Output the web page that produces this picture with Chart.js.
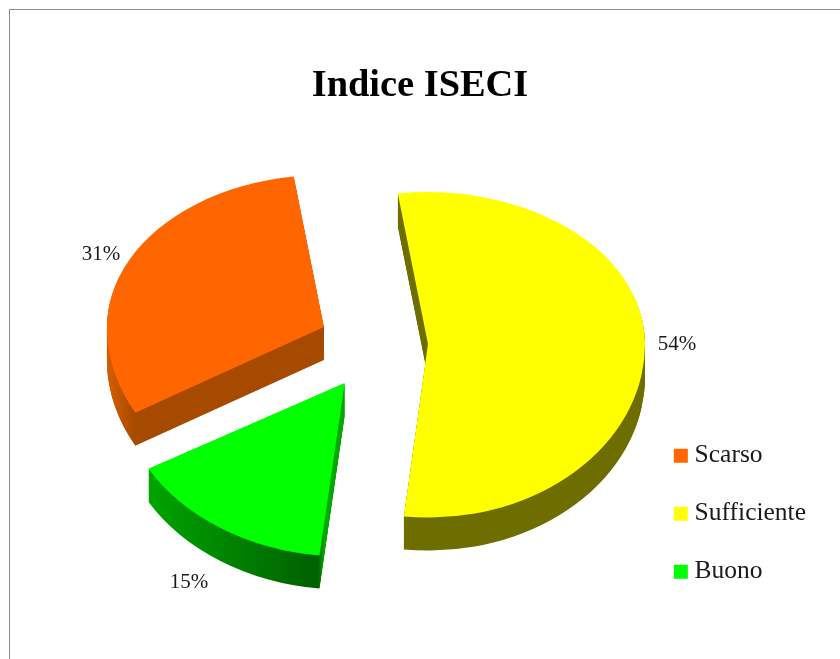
<!DOCTYPE html>
<html><head><meta charset="utf-8">
<script src="https://cdn.jsdelivr.net/npm/chart.js@4"></script>
<style>
html,body{margin:0;padding:0;background:#fff;overflow:hidden}
#frame{position:absolute;left:9px;top:9px;width:840px;height:660px;border-left:1px solid #8c8c8c;border-top:1px solid #8c8c8c}
canvas{position:absolute;left:0;top:0}
</style></head><body>
<div id="frame"></div>
<canvas id="c" width="840" height="659"></canvas>
<script>
const titleText = 'Indice ISECI';
const categories = ['Scarso', 'Sufficiente', 'Buono'];
const values = [31, 54, 15];
const topColors = ['#FF6600', '#FFFF00', '#00FF00'];
const wallColors = [
  [[108, '#D45E00'], [135, '#A64A00']],
  [[400, '#6E6E00'], [640, '#6E6E00']],
  [[148, '#00A400'], [318, '#006000'], [324, '#00A800']]
];
const explode = [58, 52, 57];
const sliceWidth = [1, 1, 1.04];
const labelSpots = [[101, 254], [677, 344], [189, 582]];

// Tilted-pie projection of the circular pie drawn by the library
const view = {cx: 376, cy: 345, back: 0.70, front: 0.80, depth: 33};

function apexOf(arc, i) {
  const mid = (arc.startAngle + arc.endAngle) / 2;
  const dy = Math.sin(mid) * explode[i];
  return {
    x: view.cx + Math.cos(mid) * explode[i],
    y: Math.round(view.cy + dy * (dy < 0 ? view.back : view.front))
  };
}

function drawProjected(chart, arc, i, d) {
  const {ctx, width, height} = chart;
  const apex = apexOf(arc, i);
  const yLine = apex.y + d;
  [[0, yLine, view.back], [yLine, height - yLine, view.front]].forEach(([top, h, s]) => {
    ctx.save();
    ctx.beginPath();
    ctx.rect(0, top, width, h);
    ctx.clip();
    ctx.translate(apex.x, yLine);
    ctx.scale(sliceWidth[i], s);
    ctx.translate(-arc.x, -arc.y);
    arc.draw(ctx);
    ctx.restore();
  });
}

const tiltedPie = {
  id: 'tiltedPie',
  beforeDatasetDraw(chart, args) {
    const {ctx} = chart;
    args.meta.data.forEach((arc, i) => {
      const original = arc.options;
      const apex = apexOf(arc, i);
      const toUser = px => (px - apex.x) / sliceWidth[i] + arc.x;
      const stops = wallColors[i];
      const x0 = toUser(stops[0][0]);
      const x1 = toUser(stops[stops.length - 1][0]);
      const g = ctx.createLinearGradient(x0, 0, x1, 0);
      stops.forEach(([px, col]) => g.addColorStop((toUser(px) - x0) / (x1 - x0), col));
      arc.options = {...original, backgroundColor: g};
      for (let d = view.depth; d >= 1; d--) drawProjected(chart, arc, i, d);
      arc.options = original;
      drawProjected(chart, arc, i, 0);
    });
    return false;
  },
  afterDatasetsDraw(chart) {
    const {ctx} = chart;
    ctx.save();
    ctx.font = '21px "Liberation Serif"';
    ctx.fillStyle = '#1a1a1a';
    ctx.textAlign = 'center';
    ctx.textBaseline = 'middle';
    values.forEach((v, i) => ctx.fillText(v + '%', labelSpots[i][0], labelSpots[i][1]));
    ctx.restore();
  }
};

new Chart(document.getElementById('c'), {
  type: 'pie',
  data: {
    labels: categories,
    datasets: [{
      data: values,
      backgroundColor: topColors,
      borderWidth: 0,
      hoverOffset: 0
    }]
  },
  options: {
    responsive: false,
    animation: false,
    events: [],
    radius: 217,
    rotation: 240.4,
    layout: {padding: {left: 24, right: 24, top: 0, bottom: 42}},
    plugins: {
      tooltip: {enabled: false},
      title: {
        display: true,
        text: titleText,
        color: '#000',
        font: {family: '"Liberation Serif"', size: 38.4, weight: 'bold', lineHeight: 1},
        padding: {top: 67, bottom: 0}
      },
      legend: {
        position: 'right',
        align: 'end',
        labels: {
          usePointStyle: true,
          pointStyle: 'rect',
          boxWidth: 2,
          boxHeight: 14,
          padding: 32.5,
          color: '#1a1a1a',
          font: {family: '"Liberation Serif"', size: 25.5}
        }
      }
    }
  },
  plugins: [tiltedPie]
});
</script>
</body></html>
